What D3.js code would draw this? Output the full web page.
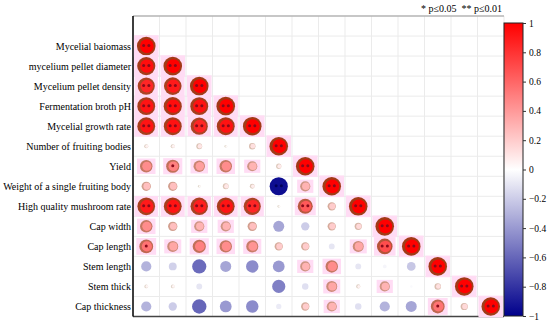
<!DOCTYPE html>
<html>
<head>
<meta charset="utf-8">
<script src="https://cdn.jsdelivr.net/npm/d3@7"></script>
<style>
  body { margin: 0; background: #fff; }
  text { font-family: "Liberation Serif", "Times New Roman", serif; }
</style>
</head>
<body>
<div id="area"></div>
<script>
// row / column names (same order for both)
var rowLabels = ["Mycelial baiomass", "mycelium pellet diameter", "Mycelium pellet density",
                 "Fermentation broth pH", "Mycelial growth rate", "Number of fruiting bodies",
                 "Yield", "Weight of a single fruiting body", "High quality mushroom rate",
                 "Cap width", "Cap length", "Stem length", "Stem thick", "Cap thickness"];

// lower triangle of the correlation matrix
var corrValues = [
  [1],
  [0.95, 1],
  [0.85, 0.9, 1],
  [0.92, 0.95, 0.93, 1],
  [0.92, 0.93, 0.85, 0.93, 1],
  [0.05, 0.05, 0.1, 0.02, 0.12, 1],
  [0.45, 0.5, 0.38, 0.45, 0.3, 0.08, 1],
  [0.25, 0.25, 0.02, 0.1, 0.07, -0.95, 0.3, 1],
  [0.9, 0.92, 0.88, 0.92, 0.85, 0.02, 0.65, 0.2, 1],
  [0.45, 0.25, 0.3, 0.3, 0.25, -0.35, -0.2, 0.2, 0.15, 1],
  [0.55, 0.35, 0.5, 0.45, 0.42, 0.2, 0.2, -0.1, 0.35, 0.7, 1],
  [-0.3, -0.18, -0.58, -0.35, -0.45, -0.4, 0.3, 0.45, -0.1, -0.04, -0.22, 1],
  [0.04, 0.04, -0.1, 0, 0, -0.5, -0.12, 0.35, 0.05, 0.3, -0.02, 0.12, 1],
  [-0.3, -0.2, -0.6, -0.4, -0.45, -0.08, 0.2, 0.3, -0.12, -0.3, -0.35, 0.55, 0.15, 1]
];

// significance marks per cell
var sigMarks = [
  ["**"],
  ["**", "**"],
  ["**", "**", "**"],
  ["**", "**", "**", "**"],
  ["**", "**", "**", "**", "**"],
  ["", "", "", "", "", "**"],
  ["", "*", "", "", "", "", "**"],
  ["", "", "", "", "", "**", "", "**"],
  ["**", "**", "**", "**", "**", "", "**", "", "**"],
  ["", "", "", "", "", "", "", "", "", "**"],
  ["*", "", "", "", "", "", "", "", "", "**", "**"],
  ["", "", "", "", "", "", "", "", "", "", "", "**"],
  ["", "", "", "", "", "", "", "", "", "", "", "", "**"],
  ["", "", "", "", "", "", "", "", "", "", "", "*", "", "**"]
];

var legendTicks = [1, 0.8, 0.6, 0.4, 0.2, 0, -0.2, -0.4, -0.6, -0.8, -1];

var plot = {left: 133, right: 504, top: 16, bottom: 316.5};
var bar = {x: 504, w: 19, top: 23, bottom: 316};

var svg = d3.select('#area').append('svg')
            .attr('width', 550)
            .attr('height', 325);

var color = d3.scaleLinear()
              .domain([-1, 0, 1])
              .range(["#00008B", "#FFFFFF", "#FF0000"]);

var x = d3.scaleBand()
          .domain(d3.range(rowLabels.length))
          .range([plot.left, plot.right]);

// one empty band on top, then a band per variable
var y = d3.scaleBand()
          .domain(d3.range(-1, rowLabels.length))
          .range([plot.top, plot.bottom]);

var radius = d3.scaleSqrt()
               .domain([0, 1])
               .range([0, 9.3]);

// grid
var grid = svg.append('g').attr('stroke', '#ebebeb').attr('stroke-width', 1);
grid.selectAll('line.v')
    .data(d3.range(rowLabels.length + 1))
    .enter().append('line')
    .attr('x1', function(d) { return plot.left + d * x.bandwidth(); })
    .attr('x2', function(d) { return plot.left + d * x.bandwidth(); })
    .attr('y1', plot.top)
    .attr('y2', plot.bottom);
grid.selectAll('line.h')
    .data(d3.range(rowLabels.length + 2))
    .enter().append('line')
    .attr('x1', plot.left)
    .attr('x2', plot.right)
    .attr('y1', function(d) { return plot.top + d * y.bandwidth(); })
    .attr('y2', function(d) { return plot.top + d * y.bandwidth(); });

// frame
svg.append('line').attr('x1', plot.left).attr('x2', plot.right)
   .attr('y1', plot.top).attr('y2', plot.top).attr('stroke', '#999');
svg.append('line').attr('x1', plot.left).attr('x2', plot.right)
   .attr('y1', plot.bottom).attr('y2', plot.bottom).attr('stroke', '#444').attr('stroke-width', 1.5);
svg.append('line').attr('x1', plot.left).attr('x2', plot.left)
   .attr('y1', plot.top).attr('y2', plot.bottom).attr('stroke', '#000').attr('stroke-width', 1.5);

// flatten cells
var cells = [];
corrValues.forEach(function(row, i) {
  row.forEach(function(v, j) {
    cells.push({row: i, col: j, r: v, sig: sigMarks[i][j]});
  });
});

var cell = svg.append('g').selectAll('g')
              .data(cells)
              .enter().append('g')
              .attr('transform', function(d) {
                return 'translate(' + (x(d.col) + x.bandwidth() / 2) + ',' + (y(d.row) + y.bandwidth() / 2) + ')';
              });

// pink halo behind the stronger positive cells
cell.filter(function(d) { return d.r >= 0.3; })
    .append('rect')
    .attr('x', function(d) { return -radius(d.r) - 3; })
    .attr('y', function(d) { return -radius(d.r) - 1.5; })
    .attr('width', function(d) { return 2 * radius(d.r) + 6; })
    .attr('height', function(d) { return 2 * radius(d.r) + 3; })
    .attr('fill', '#ffdcf4');

// outer disc (brownish ring for positive values)
cell.append('circle')
    .attr('r', function(d) { return radius(Math.abs(d.r)); })
    .attr('fill', function(d) {
      if (d.r <= 0) return color(d.r);
      return d3.interpolateRgb(color(d.r), "#6e5a24")(0.2 + 0.45 * d.r);
    });

cell.filter(function(d) { return d.r > 0; })
    .append('circle')
    .attr('cx', 0.6)
    .attr('r', function(d) { return radius(d.r) * 0.74; })
    .attr('fill', function(d) { return color(d.r); });

// significance stars (rendered as small dots like the source)
cell.each(function(d) {
  var n = d.sig.length;
  if (!n) return;
  var g = d3.select(this);
  var offs = n === 2 ? [-2.6, 2.6] : [0];
  offs.forEach(function(o) {
    g.append('circle')
     .attr('cx', o)
     .attr('cy', -0.5)
     .attr('r', 1.5)
     .attr('fill', d.r > 0 ? '#8a0a1a' : '#00005a');
  });
});

// row labels
svg.append('g').selectAll('text')
   .data(rowLabels)
   .enter().append('text')
   .attr('x', plot.left - 2)
   .attr('y', function(d, i) { return y(i) + y.bandwidth() / 2; })
   .attr('dy', '0.35em')
   .attr('text-anchor', 'end')
   .attr('font-size', 10)
   .attr('fill', '#000')
   .text(function(d) { return d; });

// colour bar
var cy = d3.scaleLinear()
           .domain([-1, 1])
           .range([bar.bottom, bar.top]);

var grad = svg.append('defs').append('linearGradient')
              .attr('id', 'cbar')
              .attr('x1', 0).attr('x2', 0).attr('y1', 1).attr('y2', 0);
grad.selectAll('stop')
    .data(d3.range(-1, 1.001, 0.1))
    .enter().append('stop')
    .attr('offset', function(d) { return (d + 1) / 2; })
    .attr('stop-color', function(d) { return color(d); });

svg.append('rect')
   .attr('x', bar.x)
   .attr('y', bar.top)
   .attr('width', bar.w)
   .attr('height', bar.bottom - bar.top)
   .attr('fill', 'url(#cbar)')
   .attr('stroke', '#222')
   .attr('stroke-width', 1);

var cAxis = d3.axisRight()
              .scale(cy)
              .tickValues(legendTicks)
              .tickSize(3)
              .tickFormat(function(d) { return d3.format('')(+d.toFixed(1)); });

var ca = svg.append('g')
            .attr('transform', 'translate(' + (bar.x + bar.w) + ',0)')
            .call(cAxis);
ca.select('.domain').remove();
ca.selectAll('text')
  .attr('font-size', 9.5)
  .style('font-family', '"Liberation Serif", "Times New Roman", serif')
  .attr('fill', '#000');
ca.selectAll('line').attr('stroke', '#333');

// significance legend
svg.append('text')
   .attr('x', 502)
   .attr('y', 12)
   .attr('text-anchor', 'end')
   .attr('font-size', 10)
   .text('* p\u22640.05 \u00a0** p\u22640.01');
</script>
</body>
</html>
